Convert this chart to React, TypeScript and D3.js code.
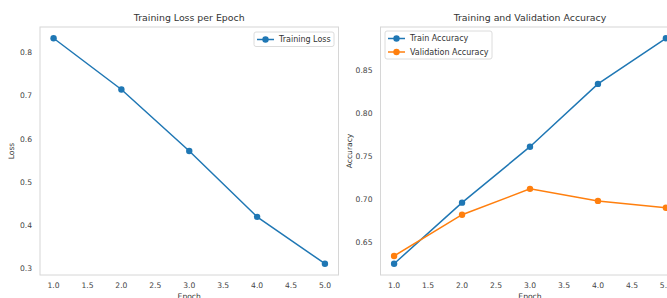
import React, { useEffect, useRef } from "react";
import * as d3 from "d3";

const epochs = [1, 2, 3, 4, 5];
const trainLoss = [0.833, 0.714, 0.571, 0.418, 0.309];
const trainAcc = [0.625, 0.696, 0.761, 0.834, 0.887];
const valAcc = [0.634, 0.682, 0.712, 0.698, 0.69];
const xTicks = [1.0, 1.5, 2.0, 2.5, 3.0, 3.5, 4.0, 4.5, 5.0];
const lossTicks = [0.3, 0.4, 0.5, 0.6, 0.7, 0.8];
const accTicks = [0.65, 0.7, 0.75, 0.8, 0.85];

const BLUE = "#1f77b4";
const ORANGE = "#ff7f0e";
const FONT = "DejaVu Sans, sans-serif";
const TICK_SIZE = "7.6px";

type Series = { name: string; values: number[]; color: string };

const padDomain = (vals: number[]): [number, number] => {
  const lo = d3.min(vals)!;
  const hi = d3.max(vals)!;
  const m = (hi - lo) * 0.05;
  return [lo - m, hi + m];
};

const App = () => {
  const svgRef = useRef<SVGSVGElement>(null);

  useEffect(() => {
    const svg = d3.select(svgRef.current);
    svg.selectAll("*").remove();

    const drawPanel = (
      left: number,
      right: number,
      title: string,
      yLabel: string,
      yLabelX: number,
      series: Series[],
      yTicks: number[],
      yFmt: (v: number) => string,
      legend: { x: number; y: number; w: number }
    ) => {
      const top = 27;
      const bottom = 275;
      const x = d3.scaleLinear().domain([0.8, 5.2]).range([left, right]);
      const y = d3
        .scaleLinear()
        .domain(padDomain(series.flatMap((s) => s.values)))
        .range([bottom, top]);

      const g = svg.append("g");

      g.append("rect")
        .attr("x", left)
        .attr("y", top)
        .attr("width", right - left)
        .attr("height", bottom - top)
        .attr("fill", "white")
        .attr("stroke", "#d6d6d6")
        .attr("stroke-width", 1);

      g.append("text")
        .attr("x", (left + right) / 2)
        .attr("y", 21)
        .attr("text-anchor", "middle")
        .style("font-family", FONT)
        .style("font-size", "9.4px")
        .attr("fill", "#333")
        .text(title);

      g.selectAll(".xt")
        .data(xTicks)
        .join("text")
        .attr("x", (d) => x(d))
        .attr("y", 288)
        .attr("text-anchor", "middle")
        .style("font-family", FONT)
        .style("font-size", TICK_SIZE)
        .attr("fill", "#444")
        .text((d) => d.toFixed(1));

      g.selectAll(".yt")
        .data(yTicks)
        .join("text")
        .attr("x", left - 8)
        .attr("y", (d) => y(d) + 3)
        .attr("text-anchor", "end")
        .style("font-family", FONT)
        .style("font-size", TICK_SIZE)
        .attr("fill", "#444")
        .text(yFmt);

      g.append("text")
        .attr("x", (left + right) / 2)
        .attr("y", 299)
        .attr("text-anchor", "middle")
        .style("font-family", FONT)
        .style("font-size", TICK_SIZE)
        .attr("fill", "#333")
        .text("Epoch");

      g.append("text")
        .attr("transform", `translate(${yLabelX},${(top + bottom) / 2}) rotate(-90)`)
        .attr("text-anchor", "middle")
        .style("font-family", FONT)
        .style("font-size", TICK_SIZE)
        .attr("fill", "#333")
        .text(yLabel);

      const line = d3
        .line<number>()
        .x((_, i) => x(epochs[i]))
        .y((d) => y(d));

      series.forEach((s) => {
        g.append("path")
          .attr("d", line(s.values))
          .attr("fill", "none")
          .attr("stroke", s.color)
          .attr("stroke-width", 1.5);
        g.selectAll(null)
          .data(s.values)
          .join("circle")
          .attr("cx", (_, i) => x(epochs[i]))
          .attr("cy", (d) => y(d))
          .attr("r", 3.2)
          .attr("fill", s.color);
      });

      // legend
      const lg = g.append("g");
      lg.append("rect")
        .attr("x", legend.x)
        .attr("y", legend.y)
        .attr("width", legend.w)
        .attr("height", series.length * 13.5 + 1)
        .attr("rx", 2)
        .attr("fill", "white")
        .attr("fill-opacity", 0.85)
        .attr("stroke", "#dcdcdc");
      series.forEach((s, i) => {
        const cy = legend.y + 7.5 + i * 13.5;
        lg.append("line")
          .attr("x1", legend.x + 3)
          .attr("x2", legend.x + 20)
          .attr("y1", cy)
          .attr("y2", cy)
          .attr("stroke", s.color)
          .attr("stroke-width", 1.5);
        lg.append("circle")
          .attr("cx", legend.x + 11.5)
          .attr("cy", cy)
          .attr("r", 3.2)
          .attr("fill", s.color);
        lg.append("text")
          .attr("x", legend.x + 25)
          .attr("y", cy + 2.8)
          .style("font-family", FONT)
          .style("font-size", "8px")
          .attr("fill", "#333")
          .text(s.name);
      });
    };

    drawPanel(
      40,
      338.5,
      "Training Loss per Epoch",
      "Loss",
      14,
      [{ name: "Training Loss", values: trainLoss, color: BLUE }],
      lossTicks,
      (v) => v.toFixed(1),
      { x: 254, y: 32, w: 80 }
    );

    drawPanel(
      380.5,
      679.5,
      "Training and Validation Accuracy",
      "Accuracy",
      352,
      [
        { name: "Train Accuracy", values: trainAcc, color: BLUE },
        { name: "Validation Accuracy", values: valAcc, color: ORANGE },
      ],
      accTicks,
      (v) => v.toFixed(2),
      { x: 385, y: 31, w: 107 }
    );
  }, []);

  return (
    <svg
      ref={svgRef}
      width={667}
      height={298}
      style={{ position: "absolute", left: 0, top: 0, background: "white" }}
    />
  );
};

export default App;
